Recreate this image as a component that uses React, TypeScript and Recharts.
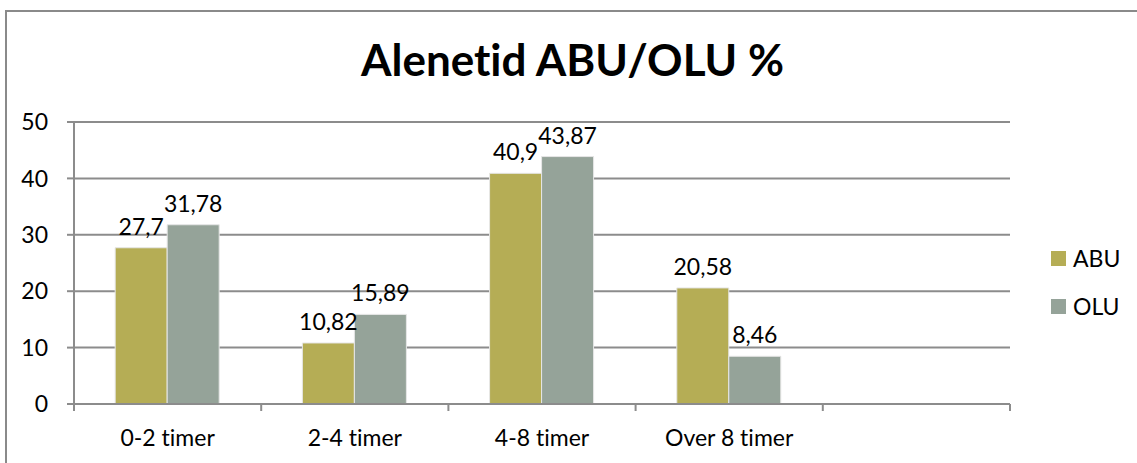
import React from 'react';
import { BarChart, Bar, XAxis, YAxis, CartesianGrid, Legend, LabelList } from 'recharts';

const categories = ['0-2 timer', '2-4 timer', '4-8 timer', 'Over 8 timer', ''];
const abuValues = [27.7, 10.82, 40.9, 20.58, null];
const oluValues = [31.78, 15.89, 43.87, 8.46, null];
const yTicks = [0, 10, 20, 30, 40, 50];

const SERIES = [
  { key: 'ABU', name: 'ABU', color: '#B5AD55' },
  { key: 'OLU', name: 'OLU', color: '#95A399' },
];

const FONT = 'Lato, "Open Sans", sans-serif';
const GRID = '#8C8C8C';
const TEXT = { fill: '#000', fontSize: 23, fontFamily: FONT, fontVariantLigatures: 'none' };
const X_TICK_MARGIN = 26;
const TICK_LEN = 7;

const data = categories.map((name, i) => ({
  name,
  ABU: abuValues[i],
  OLU: oluValues[i],
}));

const fmt = (v: any) => (v == null ? '' : String(v).replace('.', ','));

// category label plus Excel-style tick marks on the band edges
const CategoryTick = (props: any) => {
  const { x, y, payload, index, visibleTicksCount } = props;
  const half = payload.offset || 0;
  const axisY = y - X_TICK_MARGIN;
  const line = (lx: number) => (
    <line x1={lx} x2={lx} y1={axisY} y2={axisY + TICK_LEN} stroke={GRID} strokeWidth={2} />
  );
  return (
    <g>
      {line(x - half)}
      {index === visibleTicksCount - 1 && line(x + half)}
      <text x={x} y={y} dy="0.71em" textAnchor="middle" style={TEXT}>
        {payload.value}
      </text>
    </g>
  );
};

const renderLegend = () => (
  <div style={{ fontFamily: FONT, fontSize: 23, color: '#000' }}>
    {SERIES.map((s) => (
      <div key={s.key} style={{ display: 'flex', alignItems: 'center', height: 48 }}>
        <span style={{ width: 15, height: 15, background: s.color, marginRight: 7 }} />
        <span>{s.name}</span>
      </div>
    ))}
  </div>
);

export default function App() {
  return (
    <div style={{ position: 'absolute', left: 0, top: 0, width: 1137, height: 463, background: '#fff', overflow: 'hidden' }}>
      <div
        style={{
          position: 'absolute',
          left: 5,
          top: 10,
          width: 1200,
          height: 500,
          borderLeft: '2px solid #8A8A8A',
          borderTop: '2px solid #8A8A8A',
        }}
      />
      <div
        style={{
          position: 'absolute',
          left: 0,
          width: 1145,
          top: 33,
          textAlign: 'center',
          fontFamily: FONT,
          fontWeight: 700,
          fontSize: 44,
          fontVariantLigatures: 'none',
          color: '#000',
        }}
      >
        Alenetid ABU/OLU %
      </div>
      <div style={{ position: 'absolute', left: 0, top: 0 }}>
        <BarChart
          width={1137}
          height={463}
          data={data}
          margin={{ top: 122, right: 47, bottom: 19, left: 24 }}
          barCategoryGap="22%"
          barGap={0}
        >
          <CartesianGrid vertical={false} stroke={GRID} strokeWidth={2} />
          <XAxis
            dataKey="name"
            tickLine={false}
            tickSize={0}
            tickMargin={X_TICK_MARGIN}
            height={40}
            interval={0}
            axisLine={{ stroke: GRID, strokeWidth: 2 }}
            tick={<CategoryTick />}
          />
          <YAxis
            width={50}
            domain={[0, 50]}
            ticks={yTicks}
            interval={0}
            tickSize={TICK_LEN}
            tickMargin={19}
            axisLine={{ stroke: GRID, strokeWidth: 2 }}
            tickLine={{ stroke: GRID, strokeWidth: 2 }}
            tick={TEXT}
          />
          <Legend
            layout="vertical"
            align="right"
            verticalAlign="middle"
            content={renderLegend}
            wrapperStyle={{ left: 1051, top: 234, width: 80, right: 'auto' }}
          />
          {SERIES.map((s) => (
            <Bar
              key={s.key}
              dataKey={s.key}
              name={s.name}
              fill={s.color}
              stroke="#E6E6E6"
              strokeWidth={1}
              isAnimationActive={false}
            >
              <LabelList
                dataKey={s.key}
                position="top"
                offset={13}
                formatter={fmt}
                style={TEXT}
              />
            </Bar>
          ))}
        </BarChart>
      </div>
    </div>
  );
}
